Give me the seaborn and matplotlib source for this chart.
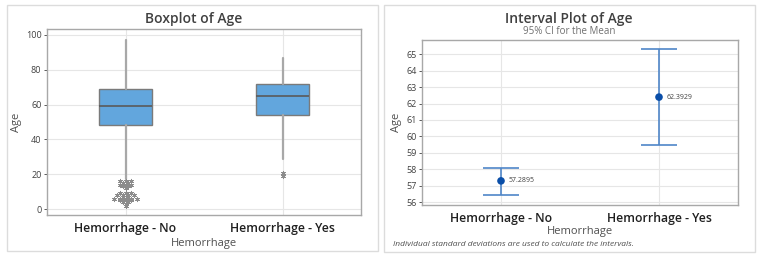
import numpy as np
import matplotlib
matplotlib.use("Agg")
import matplotlib.pyplot as plt
import seaborn as sns
from matplotlib.patches import Rectangle

# ── DATA ───────────────────────────────────────────────
groups = ['Hemorrhage - No', 'Hemorrhage - Yes']
box_q1 = [48, 54]
box_med = [59, 65]
box_q3 = [69, 72]
whisker_lo = [17, 29]
whisker_hi = [97, 87]
outliers_no = [16, 16, 16, 15, 15, 14, 14, 14, 13, 13, 12,
               9, 9, 9, 8, 8, 8, 8, 7, 7, 6, 6, 6, 6, 6, 5, 5, 5, 4, 4, 3, 2]
outliers_yes = [19, 21]

ci_means = [57.2895, 62.3929]
ci_low = [56.45, 59.5]
ci_high = [58.1, 65.3]

# ── STYLE ──────────────────────────────────────────────
sns.set_style('white')
plt.rcParams['font.family'] = ['Open Sans', 'DejaVu Sans']
dark = '#505050'
grid_c = '#e6e6e6'
spine_c = '#a8a8a8'

fig = plt.figure(figsize=(7.65, 2.59), dpi=100)
W, H = 765, 259

# panel borders
for x0, y0, x1, y1 in [(7, 5, 378, 251), (384, 5, 755, 252)]:
    fig.patches.append(Rectangle((x0 / W, 1 - y1 / H), (x1 - x0) / W, (y1 - y0) / H,
                                 transform=fig.transFigure, fill=False,
                                 edgecolor='#dcdcdc', lw=1))

def style_axes(ax):
    for s in ax.spines.values():
        s.set_color(spine_c)
        s.set_linewidth(1)
    ax.tick_params(axis='y', labelsize=6.5, colors='#404040', length=2, left=True,
                   width=0.6, pad=2)
    ax.tick_params(axis='x', labelsize=8.8, length=0, pad=5)
    for lab in ax.get_xticklabels():
        lab.set_fontweight('semibold')
        lab.set_color('#202020')

# ── BOXPLOT ────────────────────────────────────────────
ax1 = fig.add_axes([47 / W, 1 - 215 / H, 314 / W, 186 / H])
stats = []
for i in range(2):
    stats.append(dict(med=box_med[i], q1=box_q1[i], q3=box_q3[i],
                      whislo=whisker_lo[i], whishi=whisker_hi[i], fliers=[]))
ax1.bxp(stats, positions=[0, 1], widths=0.34, patch_artist=True, showcaps=False,
        showfliers=False,
        boxprops=dict(facecolor='#62a6dd', edgecolor='#7a7a7a', lw=1),
        medianprops=dict(color='#5a5a5a', lw=1.2),
        whiskerprops=dict(color='#a8a8a8', lw=1.6), zorder=3)

# outliers stacked side by side for ties
for pos, vals in [(0, outliers_no), (1, outliers_yes)]:
    vals = np.array(vals)
    xs, ys = [], []
    for v in np.unique(vals):
        k = int((vals == v).sum())
        offs = (np.arange(k) - (k - 1) / 2) * 0.036
        xs.extend(pos + offs)
        ys.extend([v] * k)
    sns.scatterplot(x=xs, y=ys, ax=ax1, marker=(6, 2, 0), s=10, color='#8c8c8c',
                    edgecolor='#8c8c8c', linewidth=0.6, zorder=4, legend=False)

ax1.set_xlim(-0.5, 1.5)
ax1.set_ylim(-3.4, 103.4)
ax1.set_yticks([0, 20, 40, 60, 80, 100])
ax1.set_xticks([0, 1])
ax1.set_xticklabels(groups)
ax1.grid(True, color=grid_c, lw=0.8, zorder=0)
ax1.set_axisbelow(True)
style_axes(ax1)
ax1.set_ylabel('Age', fontsize=8, color=dark, labelpad=3)
ax1.set_xlabel('Hemorrhage', fontsize=8, color=dark, labelpad=2)
fig.text(194 / W, 1 - 19 / H, 'Boxplot of Age', ha='center', va='center',
         fontsize=10, color='#404040', fontweight='semibold')

# ── INTERVAL PLOT ──────────────────────────────────────
ax2 = fig.add_axes([422 / W, 1 - 205 / H, 316 / W, 165 / H])
x = np.arange(len(groups))
means = np.array(ci_means)
yerr = [means - np.array(ci_low), np.array(ci_high) - means]
ax2.errorbar(x, means, yerr=yerr, fmt='none', ecolor='#4f86c8', elinewidth=1.2,
             capsize=13, capthick=1.2, zorder=3)
sns.scatterplot(x=x, y=means, ax=ax2, s=30, color='#0a4ea8', edgecolor='none',
                zorder=4, legend=False)
for xi, m in zip(x, ci_means):
    ax2.text(xi + 0.05, m, f'{m:.4f}', fontsize=5, color='#404040', va='center')

ax2.set_xlim(-0.5, 1.5)
ax2.set_ylim(55.82, 65.87)
ax2.set_yticks(range(56, 66))
ax2.set_xticks([0, 1])
ax2.set_xticklabels(groups)
ax2.grid(True, color=grid_c, lw=0.8, zorder=0)
ax2.set_axisbelow(True)
style_axes(ax2)
ax2.set_ylabel('Age', fontsize=8, color=dark, labelpad=3)
ax2.set_xlabel('Hemorrhage', fontsize=8, color=dark, labelpad=1)
fig.text(569 / W, 1 - 19 / H, 'Interval Plot of Age', ha='center', va='center',
         fontsize=10, color='#404040', fontweight='semibold')
fig.text(569 / W, 1 - 31 / H, '95% CI for the Mean', ha='center', va='center',
         fontsize=7, color='#707070')
fig.text(393 / W, 1 - 245 / H,
         'Individual standard deviations are used to calculate the intervals.',
         ha='left', va='center', fontsize=6, color='#505050', style='italic')

fig.savefig('out.png', dpi=100)
